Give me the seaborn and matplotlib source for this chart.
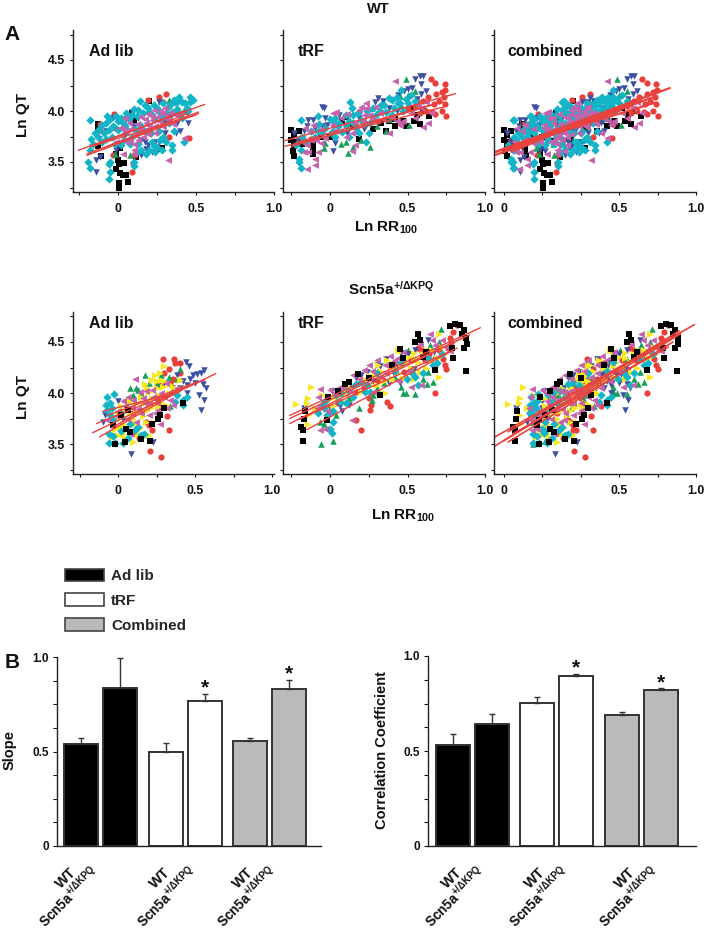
import matplotlib
matplotlib.use("Agg")
import matplotlib.pyplot as plt
from matplotlib.patches import Patch
import numpy as np
import pandas as pd
import seaborn as sns

# ---------- scatter data: (Ln RR100, Ln QT) ----------
wt_adlib_black = [(-.128,3.87),(-.128,3.81),(-.13,3.66),(-.106,3.56),(-.015,3.58),(0,3.52),(.006,3.48),(.04,3.49),(-.015,3.43),(.015,3.39),(.03,3.37),(.05,3.37),(.006,3.29),(.006,3.25),(.064,3.30),(.09,3.98),(.2,4.10),(.28,3.64),(.255,3.63),(.015,3.64),(.075,3.71),(.117,3.55),(.1,3.91)]
wt_adlib_red = [(.31,4.17),(.26,4.14),(.195,4.11),(-.025,3.97),(-.117,3.87),(.457,3.74),(.095,3.49),(.09,3.40),(.1,3.57),(-.03,3.57),(-.02,3.83),(.29,4.09),(-.117,3.81),(.33,3.75)]
wt_adlib_green = [(.39,4.11),(-.02,3.58),(.08,3.57),(.28,3.73),(.33,4.11),(.24,3.93),(.42,4.01),(.13,3.8)]
wt_adlib_blue = [(-.125,3.73),(-.115,3.55),(-.14,3.52),(-.14,3.40),(.26,4.09),(.195,3.67),(.15,3.57),(.18,3.63),(.44,3.98),(.38,3.88),(.37,3.78),(.1,3.85),(.09,3.99),(.045,3.76),(.3,3.88),(.24,3.7),(.17,3.7),(-.03,3.93),(.45,3.88),
    (.05,3.92),(-.08,3.8),(.13,3.93),(.2,3.8),(.12,3.66),(.22,3.6),(.3,3.78),(.34,3.95),(.38,3.97),(.15,3.72),(.26,3.7),(.4,3.8),(-.01,3.62)]
wt_adlib_cyan = [(-.18,3.91),(-.07,3.95),(-.19,3.50),(-.18,3.44),(-.06,3.48),(-.05,3.40),(-.055,3.33),(.14,4.10),(.195,4.03),(.46,4.14),(.48,4.11),(.46,4.09),(.39,4.14),(.41,4.09),(.37,4.08),(.32,4.04),(.345,3.99),(.44,4.03),(.215,3.96),(.17,4.06),(.13,4.01),(.09,3.96),(.02,3.93),(0,3.9),(.045,3.85),(-.06,3.81),(-.09,3.78),(-.17,3.73),(-.18,3.62),(-.16,3.68),(.215,3.7),(.25,3.65),(.18,3.58),(.24,3.6),(.345,3.62),(.42,3.7),(.345,3.67),(.105,3.5),(.105,3.46),(.27,3.72),(.15,3.62),(.09,3.75),(.14,3.86),(.28,3.94),(.25,4.03),(-.04,3.75),(-.105,3.7),(0,3.81),(.02,3.67),(.41,3.93),(-.05,3.5),
    (-.15,3.78),(-.12,3.82),(-.1,3.86),(-.08,3.88),(-.05,3.92),(-.03,3.85),(-.01,3.95),(.03,3.88),(.05,3.98),(.07,3.92),(.1,4.02),(.12,3.95),(.16,3.98),(.18,4.05),(.2,3.99),(.23,4.06),(.26,3.99),(.29,4.08),(.31,3.98),(.34,4.07),(.36,4.11),(.38,4.02),(.4,3.97),(.43,4.08),(.45,4.0),(.33,3.88),(.36,3.8),(.29,3.75),(.2,3.62),(.23,3.66),(.13,3.68),(.08,3.68),(.04,3.72),(-.02,3.68),(-.08,3.73),(-.13,3.75),(.12,3.6),(.28,3.62),(.31,3.7),(.21,3.78),(.26,3.8),(.17,3.8),(.06,3.8),(.11,3.82)]
wt_adlib_magenta = [(.32,3.52),(.42,3.74),(.035,3.58),(.1,3.58),(.3,4.03),(.28,3.98),(.25,3.94),(.215,3.91),(.18,3.88),(.14,3.81),(.11,3.76),(.08,3.72),(.07,3.88),(.045,3.93),(.1,3.62),(.3,3.96),(.33,3.91),(.29,3.85),(.24,3.85),(.16,3.75),(-.01,3.7),(.37,3.96),(.01,3.83),(.23,4.01),(.15,3.94),
    (.02,3.76),(.05,3.8),(.08,3.82),(.12,3.87),(.15,3.83),(.17,3.92),(.2,3.85),(.22,3.95),(.26,3.9),(.28,3.85),(.31,3.93),(.34,3.98),(.27,4.0),(.19,3.97),(.1,3.68),(.13,3.72),(.06,3.7),(.03,3.82),(.19,3.77),(.24,3.78),(.35,3.87),(.4,3.98)]

wt_trf_black = [(-.25,3.81),(-.25,3.72),(-.23,3.67),(-.24,3.61),(-.23,3.56),(-.11,3.63),(-.11,3.58),(-.11,3.68),(0,3.75),(.1,3.94),(.19,3.73),(.36,3.80),(.38,3.9),(.42,3.85),(.49,3.85),(.56,3.96),(.58,3.87),(.64,3.95),(.52,4.03),(-.23,3.76),
    (-.2,3.8),(-.18,3.68),(-.06,3.75),(.08,3.9),(.14,3.85),(.28,3.82),(.33,3.88),(.47,3.9),(.6,4.0),(.54,3.9),(.42,3.92),(-.22,3.7)]
wt_trf_red = [(.65,4.31),(.68,4.27),(.74,4.26),(.745,4.21),(.72,4.19),(.685,4.17),(.63,4.14),(.735,4.14),(.74,4.07),(.75,3.95),(.66,3.99),(.68,3.97),(.56,4.10),(.46,3.87),(.5,4.03),(.31,3.9),(-.12,3.73),(-.2,3.72),(.1,3.86),
    (.55,4.05),(.6,4.1),(.62,4.0),(.7,4.1),(.67,4.07),(.58,3.98),(.72,4.0)]
wt_trf_green = [(.49,4.31),(.5,4.16),(.51,3.86),(.36,3.80),(.26,3.65),(.115,3.59),(.1,3.70),(-.03,3.69),(-.04,3.64),(.15,3.65),(.27,4.03),(.46,4.06),
    (.2,3.72),(.07,3.68),(.3,3.85),(.38,3.92),(.45,4.15),(.55,4.2),(.18,3.8),(0,3.78)]
wt_trf_blue = [(.58,4.34),(.6,4.34),(.55,4.31),(.59,4.26),(.53,4.23),(-.05,4.04),(-.04,4.03),(-.14,3.91),(-.11,3.91),(-.03,3.93),(-.23,3.78),(.02,3.61),(.31,4.13),(.29,4.09),(-.02,3.86),(.03,3.69),(.44,4.16),(.59,4.17),(.38,4.03),(-.17,3.8),(-.1,3.83),(.19,3.93),
    (-.15,3.85),(-.05,3.85),(.06,3.96),(.11,3.78),(.24,3.87),(.34,4.1),(.48,4.2),(.5,4.22),(.56,4.12),(.62,4.2),(.43,4.0),(.22,3.82),(-.2,3.71)]
wt_trf_cyan = [(-.19,3.91),(-.08,3.95),(.13,4.09),(-.2,3.53),(-.2,3.50),(-.19,3.44),(-.19,3.62),(-.22,3.67),(.03,3.93),(.02,3.9),(.14,4.03),(.15,3.96),(.12,3.9),(.17,3.83),(.19,3.78),(.23,3.7),(-.08,3.8),(-.03,3.83),(.05,3.85),(.28,4.03),(.33,4.06),(.4,4.11),(.43,4.14),(.45,4.08),(.49,4.12),(.52,4.16),(.46,4.21),(.36,3.99),(.03,3.75),(-.16,3.7),(.2,3.91),(.1,3.96),(.28,3.94),
    (-.12,3.8),(-.1,3.75),(-.07,3.87),(-.05,3.78),(0,3.92),(.02,3.8),(.06,3.88),(.08,3.79),(.11,3.84),(.15,3.88),(.18,3.98),(.22,3.87),(.24,4.0),(.26,3.88),(.3,3.97),(.32,4.0),(.35,4.06),(.38,4.13),(.41,4.03),(.44,4.08),(.47,4.0),(.5,4.08),(.55,4.1),(.4,3.96),(.25,3.78),(.12,3.75),(-.18,3.75)]
wt_trf_magenta = [(.42,4.29),(-.15,3.43),(-.1,3.47),(-.1,3.53),(-.14,3.6),(-.15,3.67),(-.12,3.72),(.04,3.99),(.02,3.98),(.23,4.08),(.2,4.04),(.19,4.01),(.23,4.03),(.25,3.96),(.22,3.96),(.14,3.61),(.16,3.67),(.38,3.78),(.6,3.84),(.63,3.88),(.59,4.03),(.62,4.09),(-.06,3.69),(-.16,3.83),(-.11,3.86),(.32,3.98),(.1,3.75),(.43,3.9),(.45,3.86),(.01,3.86),(.14,3.78),(.57,4.06),
    (-.18,3.7),(-.13,3.8),(-.09,3.72),(-.06,3.82),(-.03,3.74),(.03,3.8),(.07,3.93),(.11,3.97),(.21,3.9),(.27,3.92),(.29,4.04),(.34,3.92),(.4,3.93),(.47,3.9),(.52,3.98),(.55,3.93),(.65,3.98),(.16,3.88),(-.17,3.6),(-.08,3.6)]

ko_adlib_black = [(.42,3.9),(.26,3.75),(.27,3.78),(.045,3.52),(-.02,3.5),(.21,3.53),(.055,3.65),(-.03,3.69),(.065,3.83),(.08,3.62),(.22,3.7),(.3,3.85),(.02,3.78),(.15,3.55)]
ko_adlib_red = [(.29,4.33),(.365,4.33),(.37,4.29),(.4,4.29),(.33,3.64),(.21,3.43),(.28,3.37),(.33,4.24),(.32,3.77),(.22,3.64),(.135,3.56),(.105,3.61),(.2,3.69),(.36,4.14),(.27,4.08),(.25,3.95),(.3,4.2),(.34,4.1),(.18,3.72),(.1,3.8),(.4,4.2)]
ko_adlib_green = [(.175,4.18),(.08,4.05),(.12,4.05),(.4,4.24),(.28,4.18),(.15,4.0),(.13,4.03),(.34,3.87),(.25,4.1),(.33,4.16),(.2,4.1),(.38,4.14),(.1,3.98)]
ko_adlib_blue = [(.44,4.3),(.46,4.26),(.56,4.23),(.54,4.2),(.51,4.19),(.49,4.18),(.55,4.09),(.57,4.05),(.525,3.98),(.56,3.93),(.54,3.83),(.085,3.4),(.23,3.52),(.445,4.08),(.47,4.14),(-.085,3.78),(.4,4.05),(-.095,3.72),(.055,3.91),(.35,4.05),(.42,4.12),(.45,4.0),(.38,4.18),(.5,4.1),(.03,3.75),(0,3.92),(.3,4.1),(.2,3.85)]
ko_adlib_yellow = [(.3,4.26),(.24,4.18),(.22,4.13),(.28,4.13),(.175,4.09),(.33,4.09),(.29,4.06),(.25,4.05),(.2,4.01),(.15,3.96),(.12,3.9),(.02,3.87),(.035,3.77),(.01,3.67),(-.02,3.65),(-.04,3.57),(0,3.59),(.06,3.65),(.11,3.7),(.2,3.59),(.1,3.52),(.045,3.56),(.28,3.9),(.33,3.98),(.21,3.85),(.165,3.77),(.4,4.13),(.08,3.8),
    (.03,3.7),(.05,3.82),(.08,3.92),(.1,3.75),(.12,3.82),(.14,3.66),(.16,3.9),(.18,3.82),(.19,4.05),(.22,3.95),(.23,3.88),(.25,4.12),(.26,3.98),(.27,4.2),(.3,4.12),(.31,3.88),(.34,4.0),(.03,3.6),(.07,3.55),(.13,3.6),(.18,3.72),(.23,3.72),(-.02,3.75),(0,3.8),(.26,3.86),(.36,4.06)]
ko_adlib_cyan = [(-.07,3.96),(-.025,3.99),(-.055,3.9),(-.04,3.85),(-.06,3.51),(.445,3.96),(.42,3.93),(.065,3.56),(.13,3.67),(.15,3.59),(.035,3.51),(-.02,3.51),(-.07,3.83),(-.03,3.74),(.37,3.91),(.11,3.64),(-.05,3.78),(-.06,3.6),(-.03,3.58),(.02,3.63),(.08,3.7),(.17,3.6),(.02,3.8),(.38,3.98),(.42,3.88),(-.08,3.88)]
ko_adlib_magenta = [(.11,4.14),(.28,4.0),(.36,3.88),(.34,3.93),(.24,3.8),(.26,3.83),(.2,3.78),(.14,4.01),(.1,3.93),(.045,3.87),(-.01,3.77),(-.07,3.74),(.175,3.9),(.3,3.96),(.23,3.96),(.15,3.8),(.065,3.96),(.38,4.05),(.08,3.6),(0,3.82),(.03,3.92),(.06,3.75),(.09,3.85),(.13,3.84),(.16,3.95),(.2,3.9),(.22,4.03),(.25,3.9),(.27,3.7),(.32,3.85),(.31,4.1),(.18,4.02),(.12,3.72),(-.04,3.7)]

ko_trf_black = [(-.175,3.53),(-.19,3.67),(-.175,3.64),(-.17,3.75),(-.16,3.82),(.565,4.58),(.58,4.52),(.775,4.66),(.805,4.68),(.84,4.67),(.865,4.62),(.88,4.54),(.885,4.48),(.865,4.44),(.795,4.34),(.875,4.22),(.85,4.58),(.18,4.19),(.12,4.11),(.095,4.09),(-.01,3.96),(.47,4.34),(.68,4.23),(.32,3.98),(-.02,3.74),(.785,4.44),(.05,4.02),(.25,4.15),(.4,4.27),(.45,4.43),(.55,4.5),(.6,4.35),(.62,4.4)]
ko_trf_red = [(.68,4.0),(.2,3.64),(.17,3.74),(.365,3.91),(.385,3.87),(.26,3.83),(.265,3.88),(.82,4.67),(.795,4.6),(.775,4.54),(.76,4.44),(.74,4.27),(.75,4.24),(.57,4.44),(.61,4.32),(.59,4.42),(.34,4.13),(.17,4.01),(.48,4.21),(.05,3.9),(.1,4.0),(.22,4.05),(.3,4.12),(.42,4.3),(.52,4.32),(.64,4.38),(.7,4.42),(.78,4.5),(.73,4.33),(.25,3.95)]
ko_trf_green = [(-.06,3.5),(.02,3.53),(-.04,3.7),(-.065,3.72),(.46,4.06),(.47,4.0),(.49,4.0),(.55,3.99),(.665,4.11),(.715,4.63),(.645,4.47),(.505,4.42),(.625,4.09),(.27,3.93),(.28,3.98),(.19,3.85),(.04,3.78),(.635,4.21),(0,3.82),(.12,3.95),(.35,4.1),(.42,4.16),(.55,4.33),(.6,4.14),(.67,4.35),(.3,4.05),(.7,4.5)]
ko_trf_blue = [(.01,4.02),(.17,4.15),(.12,3.88),(.065,3.87),(.3,4.27),(.32,4.26),(.46,4.39),(.635,4.52),(-.17,3.85),(.6,4.34),(.24,4.21),(.41,4.19),(0,3.85),(.54,4.24),(-.04,3.9),(.05,3.98),(.08,3.82),(.14,4.05),(.2,4.18),(.28,4.12),(.36,4.33),(.43,4.27),(.5,4.38),(.55,4.42),(.67,4.4),(.45,4.1),(.38,4.1)]
ko_trf_yellow = [(-.22,3.89),(-.125,4.06),(-.14,3.95),(-.15,3.9),(-.14,3.7),(-.14,3.78),(.44,4.42),(.46,4.41),(.54,4.39),(.625,4.42),(.7,4.58),(.73,4.37),(.7,4.16),(.54,4.34),(.46,4.26),(.355,4.0),(.31,4.27),(.29,4.18),(.26,4.08),(.4,4.14),(.01,3.95),(.02,3.87),(.54,4.14),(.58,4.21),(.2,4.01),(.69,4.34),
    (-.1,3.85),(-.05,3.98),(.05,3.97),(.08,3.92),(.1,4.0),(.13,4.05),(.23,4.13),(.25,4.18),(.3,4.08),(.33,4.22),(.35,4.12),(.37,4.32),(.4,4.25),(.43,4.2),(.48,4.3),(.5,4.35),(.52,4.25),(.57,4.3),(.6,4.38),(.62,4.25),(.65,4.32),(.66,4.42),(.72,4.45),(.47,4.15)]
ko_trf_cyan = [(0,3.65),(.01,3.61),(-.04,3.85),(.02,3.82),(-.05,3.88),(.04,3.98),(.2,4.11),(.17,4.09),(.225,4.01),(.26,4.01),(.55,4.16),(.665,4.27),(.69,4.29),(.02,3.72),(.065,3.91),(.57,4.08),(.495,4.14),(-.02,3.78),(.15,3.96),(-.08,3.8),(-.03,3.92),(.07,4.0),(.1,3.9),(.24,4.08),(.3,4.2),(.42,4.22),(.46,4.3),(.53,4.2),(.6,4.2),(.63,4.34),(.72,4.38),(.12,4.02)]
ko_trf_magenta = [(-.065,4.04),(.065,4.06),(.25,4.27),(.22,4.23),(.44,4.34),(.39,4.36),(.41,4.31),(.355,4.27),(.14,3.74),(-.065,3.64),(-.075,3.96),(-.085,3.85),(.645,4.58),(.75,4.45),(.59,4.08),(.775,4.41),(.085,4.06),(.19,4.14),(.655,4.52),(.525,4.06),(.28,4.01),(-.03,3.65),(-.02,3.82),(.03,4.0),(0,4.03),(.12,4.02),(.15,4.18),(.27,4.22),(.32,4.16),(.36,4.2),(.47,4.4),(.5,4.22),(.58,4.48),(.62,4.4),(.68,4.47),(.72,4.52),(.44,4.12),(.3,4.32)]

# regression lines: x0, y0, x1, y1
wt_adlib_lines = [(-.255,3.615,.557,4.065),(-.2,3.58,.515,3.99),(-.2,3.565,.517,3.977),(-.18,3.65,.5,3.96),(-.1,3.62,.45,3.98),(-.15,3.66,.42,4.0)]
wt_trf_lines = [(-.29,3.71,.81,4.17),(-.29,3.655,.735,4.04),(-.25,3.65,.73,4.09),(-.2,3.70,.70,4.08)]
wt_comb_lines = [(-.3,3.6,.83,4.225),(-.3,3.57,.73,4.14),(-.3,3.6,.73,4.08),(-.25,3.6,.65,4.13),(-.25,3.63,.65,4.1),(-.2,3.6,.6,4.1),(-.2,3.65,.6,4.08),(-.2,3.63,.5,4.0)]
ko_adlib_lines = [(-.165,3.61,.635,4.19),(-.14,3.70,.565,4.13),(-.12,3.57,.47,4.08),(-.07,3.78,.50,4.10),(-.04,3.66,.42,4.06),(-.1,3.82,.4,4.01)]
ko_trf_lines = [(-.26,3.78,.97,4.64),(-.26,3.75,.90,4.57),(-.26,3.70,.87,4.55),(-.15,3.64,.77,4.40),(-.2,3.74,.82,4.44)]
ko_comb_lines = [(-.305,3.57,.99,4.67),(-.305,3.48,.89,4.61),(-.22,3.62,.87,4.56),(-.19,3.60,.82,4.45),(-.22,3.52,.85,4.50),(-.25,3.53,.9,4.58)]

# ---------- bar data ----------
slope_values = [.538,.835,.50,.766,.557,.83]
slope_upper = [.57,.995,.543,.803,.573,.876]
corr_values = [.533,.641,.752,.896,.69,.822]
corr_upper = [.592,.694,.783,.905,.706,.829]
bar_groups = ["Ad lib","Ad lib","tRF","tRF","Combined","Combined"]
group_names = ["Ad lib","tRF","Combined"]
genotype_labels = ["WT","Scn5a$^{+/\\Delta KPQ}$"]

# ---------- styling ----------
sns.set_theme(style="ticks")
plt.rcParams["font.family"] = ["Liberation Sans","DejaVu Sans"]
plt.rcParams["font.weight"] = "bold"
plt.rcParams["mathtext.fontset"] = "custom"
plt.rcParams["mathtext.rm"] = "Liberation Sans:bold"
plt.rcParams["mathtext.it"] = "Liberation Sans:bold"
plt.rcParams["mathtext.bf"] = "Liberation Sans:bold"
plt.rcParams["mathtext.default"] = "rm"

W, H = 705, 931
fig = plt.figure(figsize=(W/100, H/100), dpi=100, facecolor="white")

def px_axes(left, right, top, bottom):
    return fig.add_axes([left/W, 1-bottom/H, (right-left)/W, (bottom-top)/H], facecolor="none")

def label(x, y, s, size=11, **kw):
    kw.setdefault("ha", "center")
    kw.setdefault("va", "center")
    return fig.text(x/W, 1-y/H, s, fontsize=size, fontweight="bold", color="#111111", **kw)

COL = {"black":"#000000","red":"#e83f3a","green":"#17a05a","blue":"#3c50a4",
       "cyan":"#12b4c8","magenta":"#c462ac","yellow":"#f6e81c"}
MK = {"black":"s","red":"o","green":"^","blue":"v","cyan":"D","magenta":"<","yellow":">"}
SZ = {"black":14,"red":20,"green":22,"blue":22,"cyan":18,"magenta":24,"yellow":26}

wt_adlib = dict(black=wt_adlib_black,red=wt_adlib_red,green=wt_adlib_green,blue=wt_adlib_blue,cyan=wt_adlib_cyan,magenta=wt_adlib_magenta)
wt_trf = dict(black=wt_trf_black,red=wt_trf_red,green=wt_trf_green,blue=wt_trf_blue,cyan=wt_trf_cyan,magenta=wt_trf_magenta)
ko_adlib = dict(red=ko_adlib_red,green=ko_adlib_green,blue=ko_adlib_blue,yellow=ko_adlib_yellow,cyan=ko_adlib_cyan,magenta=ko_adlib_magenta,black=ko_adlib_black)
ko_trf = dict(red=ko_trf_red,green=ko_trf_green,blue=ko_trf_blue,yellow=ko_trf_yellow,cyan=ko_trf_cyan,magenta=ko_trf_magenta,black=ko_trf_black)

def combine(a, b):
    return {k: a[k]+b[k] for k in a}

def scatter_panel(left, right, top, x0px, scale, series, lines, y_labels, shifted=False, lw=1.0):
    bottom = top+162
    ax = px_axes(left, right, top, bottom)
    for name, pts in series.items():
        arr = np.array(pts)
        sns.scatterplot(x=arr[:,0], y=arr[:,1], ax=ax, color=COL[name], marker=MK[name],
                        s=SZ[name], linewidth=0, legend=False, clip_on=False)
    for x0,y0,x1,y1 in lines:
        sns.lineplot(x=[x0,x1], y=[y0,y1], ax=ax, color="#e8433f", lw=lw, errorbar=None, legend=False)
    ax.set_xlim((left-x0px)/scale, (right-x0px)/scale)
    ax.set_ylim(4-81/102, 4+81/102)
    ax.set_xticks([-.25,0,.25,.5,.75,1])
    ax.set_xticklabels(["0","","","0.5","","1.0"] if shifted else ["","0","","0.5","","1.0"])
    ax.set_yticks([3.25,3.5,3.75,4,4.25,4.5,4.75])
    ax.set_yticklabels(["","3.5","","4.0","","4.5",""] if y_labels else [""]*7)
    ax.tick_params(length=2, width=0.8, labelsize=8.8, pad=6, colors="#111111")
    ax.tick_params(axis="y", pad=4)
    ax.set_xlabel(""); ax.set_ylabel("")
    sns.despine(ax=ax)
    for s in ("left","bottom"):
        ax.spines[s].set_linewidth(1.0); ax.spines[s].set_color("#222222")
    return ax

TOP1, TOP2 = 30, 312
wt_c = combine(wt_adlib, wt_trf); ko_c = combine(ko_adlib, ko_trf)
scatter_panel(73,274,TOP1,118,156,wt_adlib,wt_adlib_lines,True)
scatter_panel(283,485,TOP1,330,155,wt_trf,wt_trf_lines,False)
scatter_panel(494,696,TOP1,542,154,wt_c,wt_comb_lines,False,shifted=True,lw=1.6)
scatter_panel(73,274,TOP2,118,154,ko_adlib,ko_adlib_lines,True)
scatter_panel(283,485,TOP2,330,155,ko_trf,ko_trf_lines,False)
scatter_panel(494,696,TOP2,542,154,ko_c,ko_comb_lines,False,shifted=True,lw=1.2)

for y in (52, 323):
    label(111, y, "Ad lib", 11.5); label(311, y, "tRF", 11.5); label(545, y, "combined", 11.5)
label(23, 115, "Ln QT", 11, rotation=90); label(23, 397, "Ln QT", 11, rotation=90)
label(386, 228, "Ln RR$_{100}$", 11); label(403, 516, "Ln RR$_{100}$", 11)
label(378, 9, "WT", 10.5)
label(391, 289, "Scn5a$^{+/\\Delta KPQ}$", 11)
label(12, 35, "A", 15); label(12, 663, "B", 15)

# ---------- bars ----------
GROUP_COL = {"Ad lib":"#000000","tRF":"#ffffff","Combined":"#b9babc"}

def bar_panel(left, right, top, centers, values, upper, ylabel, ylabel_x, star_idx):
    ax = px_axes(left, right, top, 846)
    df = pd.DataFrame({"pos":centers,"value":values,"group":bar_groups})
    sns.barplot(data=df, x="pos", y="value", hue="group", hue_order=group_names, palette=GROUP_COL,
                native_scale=True, dodge=False, width=34.5/39, ax=ax, legend=False,
                edgecolor="#333333", linewidth=1.4, errorbar=None)
    yerr = [np.zeros(6), np.array(upper)-np.array(values)]
    ax.errorbar(centers, values, yerr=yerr, fmt="none", ecolor="#333333", elinewidth=1.0,
                capsize=2, capthick=1.0, zorder=1)
    for i in star_idx:
        ax.text(centers[i], upper[i]+0.032, "*", ha="center", va="center", fontsize=15,
                fontweight="bold", color="#111111", clip_on=False)
    ax.set_xlim(left, right)
    ax.set_ylim(0, 1.0)
    ax.set_xticks([])
    ax.set_xlabel(""); ax.set_ylabel("")
    ax.set_yticks(np.arange(9)/8)
    ax.set_yticklabels(["0","","","","0.5","","","","1.0"])
    ax.tick_params(axis="y", length=3, width=0.8, labelsize=8.5, pad=3, colors="#111111")
    sns.despine(ax=ax)
    for s in ("left","bottom"):
        ax.spines[s].set_linewidth(1.0); ax.spines[s].set_color("#222222")
    label(ylabel_x, 750, ylabel, 10.5, rotation=90)
    return ax

bar_panel(57,321,657,[81,120,166,205,250,289],slope_values,slope_upper,"Slope",10,[3,5])
bar_panel(428,696,656,[453,492,537,576,622,661],corr_values,corr_upper,"Correlation Coefficient",382,[3,5])

for x_wt, x_ko in ((66,69),(160,167),(243,247),(452,455),(535,539),(625,629)):
    label(x_wt, 878, genotype_labels[0], 10.5, rotation=45, rotation_mode="anchor")
    label(x_ko, 897, genotype_labels[1], 9.8, rotation=45, rotation_mode="anchor")

handles = [Patch(facecolor=GROUP_COL[g], edgecolor="#444444", linewidth=1.2, label=g) for g in group_names]
fig.legend(handles=handles, loc="upper left", bbox_to_anchor=(60/W, 1-564/H), frameon=False, ncol=1,
           handlelength=2.55, handleheight=0.9, handletextpad=0.5, labelspacing=0.66, borderaxespad=0, borderpad=0.3,
           prop={"size":11,"weight":"bold","family":"Liberation Sans"})

fig.savefig("out.png", dpi=100, facecolor="white")
